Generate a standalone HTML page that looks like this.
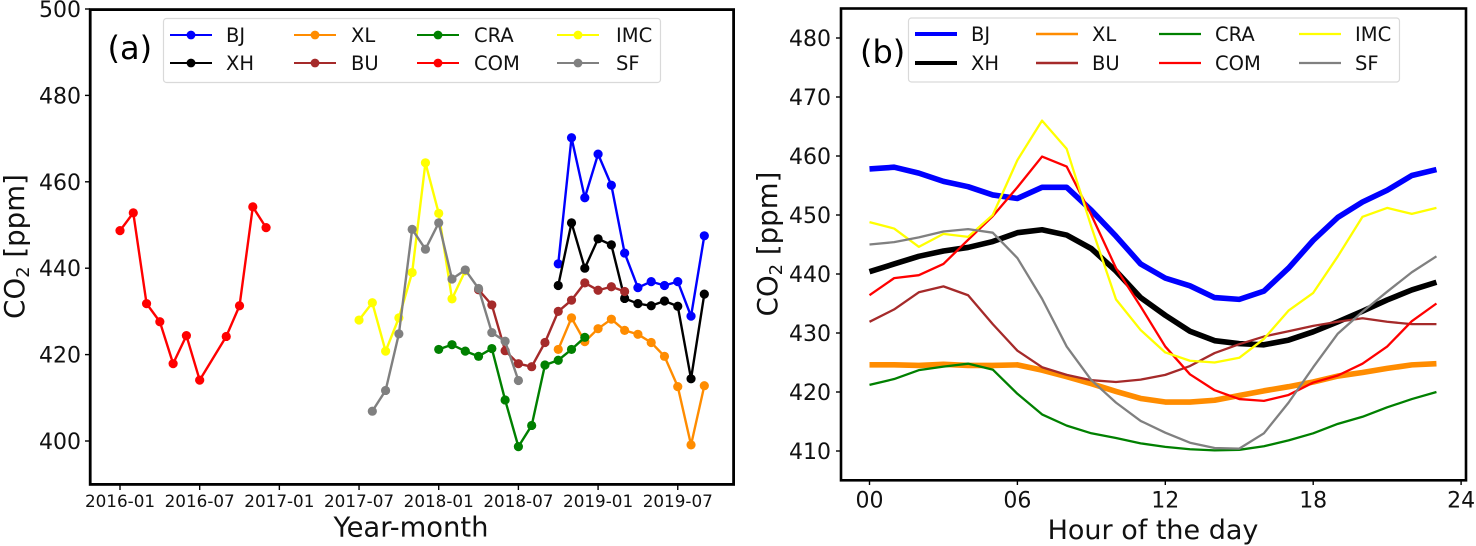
<!DOCTYPE html>
<html lang="en">
<head>
<meta charset="utf-8">
<title>CO2 charts</title>
<style>
html,body{margin:0;padding:0;background:#fff;width:1476px;height:546px;overflow:hidden}
svg{display:block;font-family:"DejaVu Sans","Liberation Sans",sans-serif}
</style>
</head>
<body>
<svg id="chart" xmlns="http://www.w3.org/2000/svg" width="1476" height="546" viewBox="0 0 1476 546">
  <g id="panelA"></g>
  <g id="panelB"></g>
  <rect x="90.2" y="9.6" width="643.4" height="474.8" fill="none" stroke="#000" stroke-width="2.8"/>
  <rect x="841" y="8.5" width="625" height="471.8" fill="none" stroke="#000" stroke-width="2.6"/>
  <text x="107.5" y="59" font-size="32" fill="#000">(a)</text>
  <text x="860" y="63" font-size="32" fill="#000">(b)</text>
  <text x="411" y="536.5" font-size="27.4" text-anchor="middle" fill="#111">Year-month</text>
  <text x="1153" y="539" font-size="27" text-anchor="middle" fill="#111">Hour of the day</text>
  <text transform="translate(24,246.5) rotate(-90)" font-size="27.6" text-anchor="middle" fill="#111">CO<tspan font-size="18" dy="5">2</tspan><tspan dy="-5"> [ppm]</tspan></text>
  <text transform="translate(777,244) rotate(-90)" font-size="27.6" text-anchor="middle" fill="#111">CO<tspan font-size="18" dy="5">2</tspan><tspan dy="-5"> [ppm]</tspan></text>
</svg>
<script>
// ---- Shared legend / colours ----
const siteNames = ["BJ", "XH", "XL", "BU", "CRA", "COM", "IMC", "SF"];
const siteColors = ["#0000ff", "#000000", "#ff8c00", "#a52a2a", "#008000", "#ff0000", "#ffff00", "#808080"];

// ---- Panel (a): monthly means ----
const aYTicks = [400, 420, 440, 460, 480, 500];
const aXTicks = ["2016-01", "2016-07", "2017-01", "2017-07", "2018-01", "2018-07", "2019-01", "2019-07"];
const bjStart = "2018-10";
const bjMonthly = [441, 470.2, 456.3, 466.4, 459.2, 443.5, 435.5, 436.9, 436, 436.9, 428.9, 447.5];
const xhStart = "2018-10";
const xhMonthly = [436, 450.5, 440, 446.8, 445.4, 433, 431.8, 431.3, 432.4, 431.2, 414.4, 434];
const xlStart = "2018-10";
const xlMonthly = [421.2, 428.5, 423, 426, 428.2, 425.6, 424.7, 422.8, 419.6, 412.6, 399.1, 412.8];
const buStart = "2018-04";
const buMonthly = [435, 431.5, 420.9, 417.9, 417.2, 422.8, 430, 432.6, 436.6, 434.9, 435.7, 434.6];
const craStart = "2018-01";
const craMonthly = [421.2, 422.3, 420.8, 419.6, 421.4, 409.5, 398.7, 403.6, 417.6, 418.7, 421.2, 424];
const comStart = "2016-01";
const comMonthly = [448.7, 452.8, 431.8, 427.6, 417.9, 424.4, 414.1, null, 424.2, 431.3, 454.2, 449.4];
const imcStart = "2017-07";
const imcMonthly = [428, 432, 420.8, 428.5, 439, 464.4, 452.7, 432.9, 439.4];
const sfStart = "2017-08";
const sfMonthly = [406.9, 411.7, 424.8, 449, 444.4, 450.5, 437.5, 439.6, 435.3, 425.1, 423.1, 414];
const monthlyStarts = [bjStart, xhStart, xlStart, buStart, craStart, comStart, imcStart, sfStart];
const monthlySeries = [bjMonthly, xhMonthly, xlMonthly, buMonthly, craMonthly, comMonthly, imcMonthly, sfMonthly];

// ---- Panel (b): diurnal cycles ----
const bYTicks = [410, 420, 430, 440, 450, 460, 470, 480];
const bXTicks = ["00", "06", "12", "18", "24"];
const bjHourly = [457.8, 458.1, 457.1, 455.7, 454.8, 453.4, 452.8, 454.7, 454.7, 450.8, 446.4, 441.7, 439.3, 438, 436, 435.7, 437.1, 441, 445.7, 449.6, 452.2, 454.2, 456.7, 457.7];
const xhHourly = [440.4, 441.7, 443, 443.9, 444.5, 445.5, 447, 447.5, 446.6, 444.3, 440.5, 436, 433, 430.3, 428.7, 428.2, 428, 428.8, 430.2, 431.9, 433.7, 435.6, 437.3, 438.6];
const xlHourly = [424.6, 424.6, 424.5, 424.7, 424.5, 424.5, 424.6, 423.7, 422.6, 421.4, 420.1, 418.9, 418.3, 418.3, 418.6, 419.4, 420.2, 420.9, 421.7, 422.7, 423.3, 424, 424.6, 424.8];
const buHourly = [431.9, 434, 436.9, 437.9, 436.4, 431.5, 427, 424.2, 422.9, 422, 421.7, 422.1, 422.9, 424.4, 426.6, 428.1, 429.4, 430.3, 431.2, 431.9, 432.5, 431.9, 431.5, 431.5];
const craHourly = [421.2, 422.2, 423.7, 424.3, 424.8, 423.8, 419.7, 416.2, 414.3, 413, 412.2, 411.3, 410.7, 410.3, 410.1, 410.2, 410.8, 411.8, 413, 414.6, 415.8, 417.4, 418.8, 420];
const comHourly = [436.4, 439.3, 439.8, 441.7, 445.8, 449.8, 454.7, 459.9, 458.2, 450, 441, 434.5, 427.7, 423, 420.3, 418.8, 418.5, 419.5, 421.6, 422.8, 424.8, 427.7, 432, 435];
const imcHourly = [448.8, 447.7, 444.6, 446.8, 446.3, 450, 459.3, 466, 461.2, 448, 435.7, 430.5, 426.7, 425.3, 425, 425.8, 429, 433.8, 436.8, 443, 449.7, 451.2, 450.2, 451.2];
const sfHourly = [445, 445.4, 446.2, 447.2, 447.6, 447, 442.7, 435.8, 427.7, 422, 418.2, 415.1, 413.1, 411.4, 410.5, 410.4, 413, 418.2, 424.2, 429.9, 433.6, 437, 440.3, 443];
const hourlySeries = [bjHourly, xhHourly, xlHourly, buHourly, craHourly, comHourly, imcHourly, sfHourly];

const NS = "http://www.w3.org/2000/svg";
function make(parent, tag, attrs) {
  const node = document.createElementNS(NS, tag);
  for (const k in attrs) node.setAttribute(k, attrs[k]);
  parent.appendChild(node);
  return node;
}
function monthIndex(label) {
  const parts = label.split("-");
  return (Number(parts[0]) - 2016) * 12 + Number(parts[1]) - 1;
}
// Axis functions
function xMonth(m) { return 120 + m * 13.28; }
function yA(v) { return 441 - (v - 400) * 4.32; }
function xHour(h) { return 869.5 + h * 24.65; }
function yB(v) { return 451 - (v - 410) * 5.9; }

const panelA = document.getElementById("panelA");
const panelB = document.getElementById("panelB");

// Panel (a) ticks
aYTicks.forEach(function (t) {
  const tick = make(panelA, "line", { x1: 85, x2: 90, y1: yA(t), y2: yA(t), stroke: "#000", "stroke-width": 1.4 });
  
  
  const label = make(panelA, "text", { x: 81, y: yA(t) + 8, "font-size": 22, "text-anchor": "end", fill: "#111" });
  label.textContent = String(t);
  
  
});
aXTicks.forEach(function (t) {
  const x = xMonth(monthIndex(t));
  const tick = make(panelA, "line", { x1: x, x2: x, y1: 484.5, y2: 490, stroke: "#000", "stroke-width": 1.4 });
  
  
  const label = make(panelA, "text", { x: x, y: 506.8, "font-size": 16.8, "text-anchor": "middle", fill: "#111" });
  label.textContent = t;
  
  
});

// Panel (a) series
monthlySeries.forEach(function (values, i) {
  const start = monthIndex(monthlyStarts[i]);
  const pts = [];
  values.forEach(function (v, j) {
    if (v !== null) pts.push([xMonth(start + j), yA(v)]);
  });
  const line = make(panelA, "polyline", { points: pts.map(function (p) { return p.join(","); }).join(" "), fill: "none", stroke: siteColors[i], "stroke-width": 2.4, "stroke-linejoin": "round" });
  
  
  pts.forEach(function (p) {
    const dot = make(panelA, "circle", { cx: p[0], cy: p[1], r: 4.6, fill: siteColors[i] });
    
    
  });
});

// Panel (b) ticks
bYTicks.forEach(function (t) {
  const tick = make(panelB, "line", { x1: 836, x2: 841, y1: yB(t), y2: yB(t), stroke: "#000", "stroke-width": 1.4 });
  
  
  const label = make(panelB, "text", { x: 831, y: yB(t) + 8, "font-size": 22, "text-anchor": "end", fill: "#111" });
  label.textContent = String(t);
  
  
});
bXTicks.forEach(function (t) {
  const x = xHour(Number(t));
  const tick = make(panelB, "line", { x1: x, x2: x, y1: 480, y2: 485, stroke: "#000", "stroke-width": 1.4 });
  
  
  const label = make(panelB, "text", { x: x, y: 507.5, "font-size": 22, "text-anchor": "middle", fill: "#111" });
  label.textContent = t;
  
  
});

// Panel (b) series
hourlySeries.forEach(function (values, i) {
  const pts = values.map(function (v, h) { return xHour(h) + "," + yB(v); }).join(" ");
  const line = make(panelB, "polyline", { points: pts, fill: "none", stroke: siteColors[i], "stroke-width": i < 3 ? 5.6 : 2.3, "stroke-linejoin": "round" });
  
  
});

// Legends
function drawLegend(parent, box, lineX, textX, rows, withMarkers, widths, prefix) {
  const frame = make(parent, "rect", { x: box[0], y: box[1], width: box[2], height: box[3], rx: 3, fill: "#fff", "fill-opacity": 0.85, stroke: "#d9d9d9", "stroke-width": 1.2 });
  
  
  siteNames.forEach(function (name, i) {
    const col = Math.floor(i / 2);
    const y = rows[i % 2];
    const swatch = make(parent, "line", { x1: lineX[col], x2: lineX[col] + 42, y1: y, y2: y, stroke: siteColors[i], "stroke-width": widths[i] });
    
    
    if (withMarkers) {
      const dot = make(parent, "circle", { cx: lineX[col] + 21, cy: y, r: 4.4, fill: siteColors[i] });
      
      
    }
    const label = make(parent, "text", { x: textX[col], y: y + 7, "font-size": 19.5, fill: "#111" });
    label.textContent = name;
    
    
  });
}
drawLegend(panelA, [163.5, 18.5, 497, 64], [170, 294, 417, 557], [226, 351, 474, 616], [35, 63], true, [2, 2, 2, 2, 2, 2, 2, 2], "panel-a");
drawLegend(panelB, [908.5, 18, 491, 64], [915, 1036, 1159, 1299], [971, 1092, 1215, 1355], [34, 63], false, [4, 4, 2.4, 2.4, 2.2, 2.2, 2.2, 2.2], "panel-b");
</script>
</body>
</html>
